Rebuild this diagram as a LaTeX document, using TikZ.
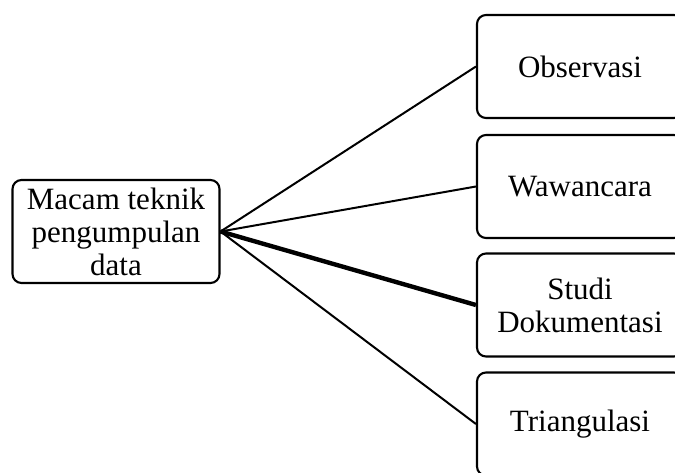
\documentclass[tikz,border=0pt]{standalone}
\usepackage{fontspec}
\setmainfont{Liberation Serif}
\begin{document}
\begin{tikzpicture}[x=1pt,y=-1pt,
  box/.style={draw, line width=2.1pt, rounded corners=9pt, inner sep=0pt, align=center,
    font=\fontsize{31}{33}\selectfont},
  link/.style={line width=2pt},
  strong/.style={line width=4.4pt}]
\useasboundingbox (0,0) rectangle (675,472);
\clip (0,0) rectangle (675,472);
% root box
\node[box, minimum width=207pt, minimum height=103pt] (root) at (116,231.5) {Macam teknik\\pengumpulan\\data};
% branch boxes
\node[box, minimum width=206pt, minimum height=103pt] (b1) at (580,66.5) {Observasi};
\node[box, minimum width=206pt, minimum height=103pt] (b2) at (580,186.5) {Wawancara};
\node[box, minimum width=206pt, minimum height=103pt] (b3) at (580,305) {Studi\\Dokumentasi};
\node[box, minimum width=206pt, minimum height=103pt] (b4) at (580,424) {Triangulasi};
% connectors
\draw[link] (root.east) -- (b1.west);
\draw[link] (root.east) -- (b2.west);
\draw[strong] (root.east) -- (b3.west);
\draw[link] (root.east) -- (b4.west);
\end{tikzpicture}
\end{document}
